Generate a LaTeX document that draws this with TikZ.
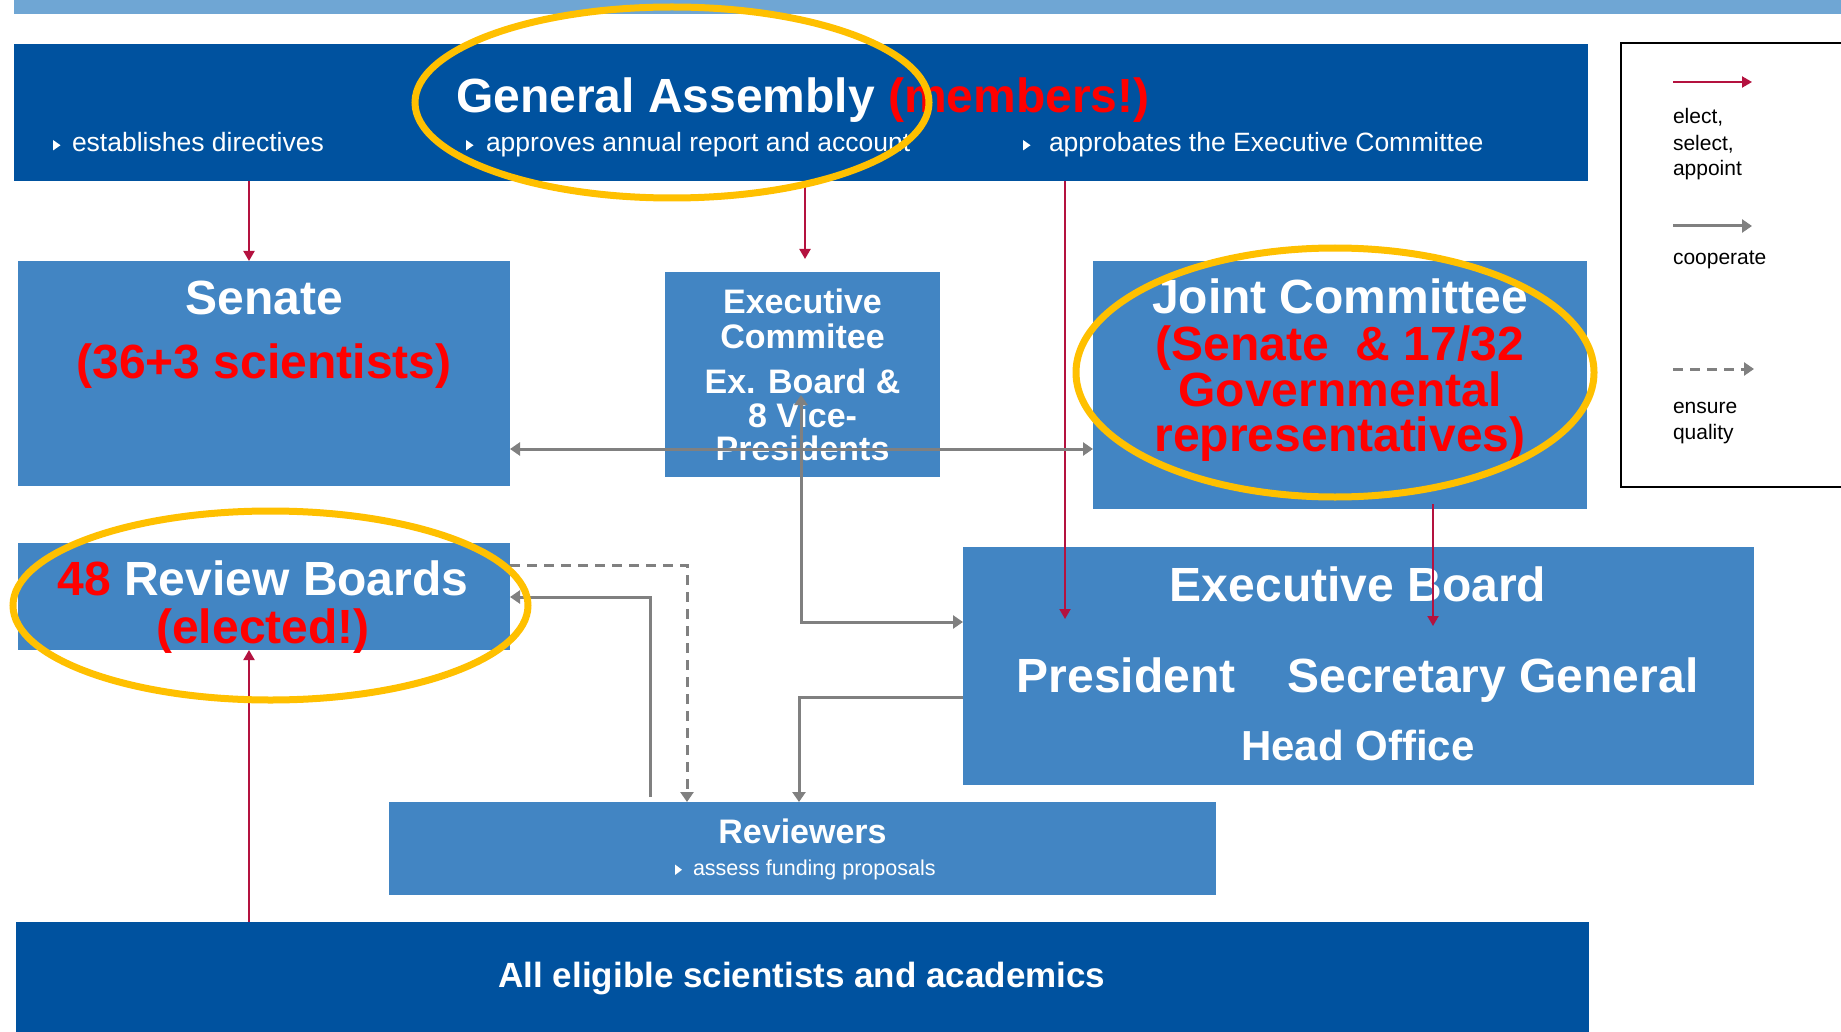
\documentclass[tikz,border=0pt]{standalone}
\usepackage{fontspec}
\setmainfont{Liberation Sans}
\usetikzlibrary{arrows.meta,calc}
\definecolor{darkblue}{HTML}{00529F}
\definecolor{midblue}{HTML}{4285C3}
\definecolor{lightbar}{HTML}{6FA6D4}
\definecolor{electred}{HTML}{B4123F}
\definecolor{coopgray}{HTML}{808080}
\definecolor{ringyellow}{HTML}{FFC000}
\definecolor{txtred}{HTML}{FF0000}
\newcommand{\fsz}[1]{\fontsize{#1}{#1}\selectfont}
\begin{document}
\begin{tikzpicture}[x=1pt,y=-1pt,
  box/.style={fill=#1, draw=none, inner sep=0, outer sep=0},
  lbl/.style={inner sep=0, outer sep=0, anchor=base, text=white},
  big/.style={lbl, font=\fsz{48}\bfseries},
  mid/.style={lbl, font=\fsz{34}\bfseries},
  bul/.style={lbl, anchor=base west, font=\fsz{26.5}},
  leg/.style={inner sep=0, outer sep=0, anchor=base west, text=black, font=\fsz{21}},
  rtip/.tip={Triangle[length=10pt,width=11pt]},
  gtip/.tip={Triangle[length=10pt,width=13pt]},
  elect/.style={draw=electred, line width=2pt, -rtip},
  coop/.style={draw=coopgray, line width=3pt, -gtip},
  ensure/.style={draw=coopgray, line width=3pt, -gtip, dash pattern=on 10pt off 7pt},
  ring/.style={draw=ringyellow, line width=7pt},
]
\useasboundingbox (0,0) rectangle (1841,1032);
\clip (0,0) rectangle (1841,1032);
\fill[white] (0,0) rectangle (1841,1032);

% boxes
\node[box=lightbar, minimum width=1840, minimum height=15] (topbar) at (934,6.5) {};
\node[box=darkblue, minimum width=1574, minimum height=137] (ga) at (801,112.5) {};
\node[box=midblue, minimum width=492, minimum height=225] (senate) at (264,373.5) {};
\node[box=midblue, minimum width=275, minimum height=205] (execcomm) at (802.5,374.5) {};
\node[box=midblue, minimum width=494, minimum height=248] (joint) at (1340,385) {};
\node[box=midblue, minimum width=492, minimum height=107] (review) at (264,596.5) {};
\node[box=midblue, minimum width=791, minimum height=238] (execboard) at (1358.5,666) {};
\node[box=midblue, minimum width=827, minimum height=93] (reviewers) at (802.5,848.5) {};
\node[box=darkblue, minimum width=1573, minimum height=130] (eligible) at (802.5,987) {};

% texts
\node[lbl, anchor=base west, font=\fsz{48}\bfseries] (gatitle) at (456,113) {General Assembly \textcolor{txtred}{(members!)}};
\node[bul] (gab1) at (72,152) {establishes directives};
\node[bul] (gab2) at (486,152) {approves annual report and account};
\node[bul] (gab3) at (1049,152) {approbates the Executive Committee};

\node[big] (sent1) at (264,314) {Senate};
\node[big, text=txtred] (sent2) at (264,378) {(36+3 scientists)};

\node[mid] (ec1) at (802.5,313) {Executive};
\node[mid] (ec2) at (802.5,348) {Commitee};
\node[mid] (ec3) at (802.5,393) {Ex. Board \&};
\node[mid] (ec4) at (802.5,427) {8 Vice-};
\node[mid] (ec5) at (802.5,460) {Presidents};

\node[big] (jc1) at (1340,313) {Joint Committee};
\node[big, text=txtred] (jc2) at (1340,360) {(Senate~~\& 17/32};
\node[big, text=txtred] (jc3) at (1340,406) {Governmental};
\node[big, text=txtred] (jc4) at (1340,451) {representatives)};

\node[big] (rb1) at (263,595) {\textcolor{txtred}{48} Review Boards};
\node[big, text=txtred] (rb2) at (263,643) {(elected!)};

\node[big] (eb1) at (1358,601) {Executive Board};
\node[big] (eb2) at (1126,692) {President};
\node[big] (eb3) at (1493,692) {Secretary General};
\node[lbl, font=\fsz{42}\bfseries] (eb4) at (1358,760) {Head Office};

\node[mid] (rv1) at (802.5,843) {Reviewers};
\node[lbl, anchor=base west, font=\fsz{21.5}] (rv2) at (693,875) {assess funding proposals};

\node[lbl, font=\fsz{35}\bfseries] (el1) at (802,987) {All eligible scientists and academics};

% bullet triangles
\fill[white] (53,140) -- (53,150.5) -- (60.5,145.25) -- cycle;
\fill[white] (466,140) -- (466,150.5) -- (473.5,145.25) -- cycle;
\fill[white] (1023,140) -- (1023,150.5) -- (1030.5,145.25) -- cycle;
\fill[white] (675,864.5) -- (675,875) -- (682,869.75) -- cycle;

% helper coordinates
\coordinate (x249) at (249,0);
\coordinate (x805) at (805,0);
\coordinate (presin) at (1065,619);
\coordinate (sgin) at (1433,626);
\coordinate (y449) at (0,449);
\coordinate (ecup) at (801,395);
\coordinate (ecturn) at (801,622);
\coordinate (y697) at (0,697);
\coordinate (x799) at (799,0);
\coordinate (x650) at (650,0);
\coordinate (y597) at (0,597);
\coordinate (y565) at (0,565);
\coordinate (x687) at (687,0);

% connectors
\draw[elect] (ga.south -| x249) -- (senate.north -| x249);
\draw[elect] (ga.south -| x805) -- ($(execcomm.north -| x805)+(0,-13)$);
\draw[elect] (ga.south -| presin) -- (presin);
\draw[elect] ($(joint.south -| sgin)+(0,-5)$) -- (sgin);
\draw[elect] (eligible.north -| x249) -- (review.south -| x249);

\draw[coop, gtip-gtip] (senate.east |- y449) -- (joint.west |- y449);
\draw[coop, gtip-gtip] (ecup) -- (ecturn) -- (ecturn -| execboard.west);
\draw[coop] (execboard.west |- y697) -| (reviewers.north -| x799);
\draw[coop] ($(reviewers.north -| x650)+(0,-5)$) |- (review.east |- y597);
\draw[ensure] (review.east |- y565) -| (reviewers.north -| x687);

% highlight rings
\draw[ring] (672,102.5) ellipse [x radius=257, y radius=95.5];
\draw[ring] (1335,372.5) ellipse [x radius=259, y radius=124.5];
\draw[ring] (270.5,605.5) ellipse [x radius=257.5, y radius=94.5];

% legend
\node[draw=black, line width=2.5pt, fill=white, inner sep=0, minimum width=260, minimum height=444] (legend) at (1751,265) {};
\coordinate (l1a) at (1673,82);  \coordinate (l1b) at (1752,82);
\coordinate (l2a) at (1673,226); \coordinate (l2b) at (1752,226);
\coordinate (l3a) at (1673,369); \coordinate (l3b) at (1754,369);
\draw[elect] (l1a) -- (l1b);
\draw[coop] (l2a) -- (l2b);
\draw[ensure] (l3a) -- (l3b);
\node[leg] (lt1) at (1673,124) {elect,};
\node[leg] (lt2) at (1673,151) {select,};
\node[leg] (lt3) at (1673,176) {appoint};
\node[leg] (lt4) at (1673,265) {cooperate};
\node[leg] (lt5) at (1673,413) {ensure};
\node[leg] (lt6) at (1673,439) {quality};
\end{tikzpicture}
\end{document}
